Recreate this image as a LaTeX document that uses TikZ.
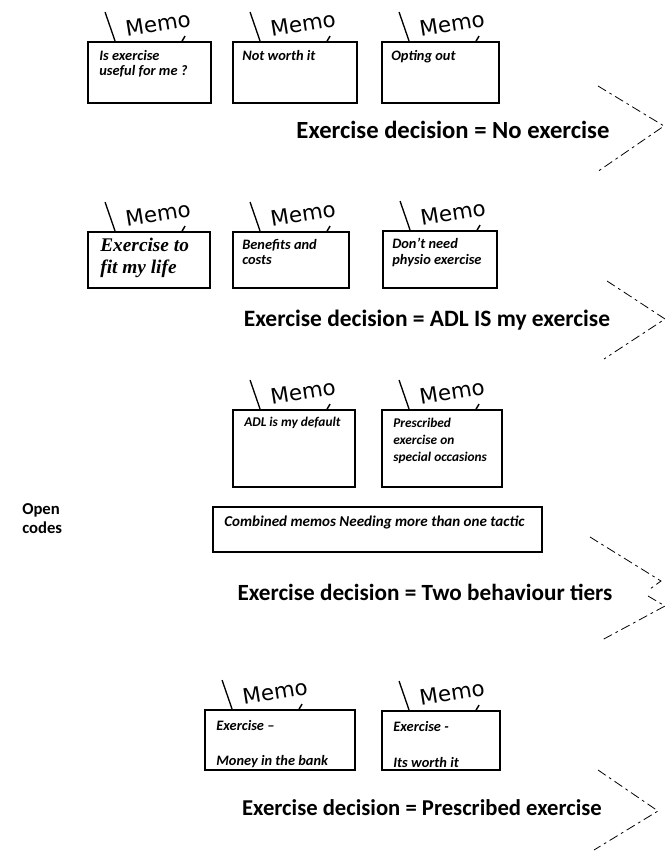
\documentclass[tikz,border=0pt]{standalone}
\usepackage{fontspec}
\setmainfont{Carlito}
\newfontfamily\memofont{DejaVu Sans}
\newfontfamily\bookfont{Liberation Serif}
\usetikzlibrary{calc,fit}

\tikzset{
  cardframe/.style={draw, line width=1.4pt, inner sep=0pt},
  tabline/.style={line width=1pt},
  tickmark/.style={line width=1.1pt},
  memolabel/.style={font=\memofont\fontsize{16}{16}\selectfont, rotate=9, inner sep=0pt},
  cardtext/.style={anchor=north west, align=left, inner sep=0pt,
    font=\bfseries\itshape\fontsize{10.8}{11.5}\selectfont},
  bigcardtext/.style={anchor=north west, align=left, inner sep=0pt,
    font=\bookfont\bfseries\itshape\fontsize{14.5}{16.5}\selectfont},
  smallcardtext/.style={anchor=north west, align=left, inner sep=0pt,
    font=\bfseries\itshape\fontsize{10}{12.5}\selectfont},
  decision/.style={font=\bfseries\fontsize{#1}{20}\selectfont, inner sep=0pt},
  decision/.default=18.5,
  sidenote/.style={font=\bfseries\fontsize{12.5}{14.5}\selectfont, align=left, anchor=north west, inner sep=0pt},
  chevron/.style={line width=0.6pt, dash pattern=on 7pt off 3pt on 2pt off 3pt}
}

% memo card: name, left, top, right, bottom (pixel units)
\newcommand\memocard[5]{%
  \node[cardframe, fit={(#2,#3) (#4,#5)}] (#1) {};
  \draw[tabline] ($(#1.north west)+(28,0)$) -- ($(#1.north west)+(18,-29)$);
  \node[memolabel] (#1-label) at ($(#1.north west)+(71,-17)$) {Memo};
  \draw[tickmark] ($(#1.north west)+(95,0)$) -- ($(#1.north west)+(98,-5)$);
}

\begin{document}
\begin{tikzpicture}[x=0.75pt,y=-0.75pt]
\useasboundingbox (0,0) rectangle (667,857);

% ---- tier 1
\memocard{c11}{88}{42}{211}{103}
\memocard{c12}{233}{42}{357}{103}
\memocard{c13}{382}{42}{499}{103}
\node[cardtext] (c11-t) at ($(c11.north west)+(12,9)$) {Is exercise\\useful for me ?};
\node[cardtext] (c12-t) at ($(c12.north west)+(10,9)$) {Not worth it};
\node[cardtext] (c13-t) at ($(c13.north west)+(10,9)$) {Opting out};
\node[decision] (d1) at (453,130) {Exercise decision = No exercise};
\coordinate (a1) at (598,86);
\coordinate (a2) at (664,126);
\coordinate (a3) at (597,172);
\draw[chevron] (a1) -- (a2) -- (a3);

% ---- tier 2
\memocard{c21}{88}{232}{210}{288}
\memocard{c22}{233}{232}{349}{288}
\memocard{c23}{383}{231}{497}{288}
\node[bigcardtext] (c21-t) at ($(c21.north west)+(13,7)$) {Exercise to\\fit my life};
\node[cardtext] (c22-t) at ($(c22.north west)+(10,8)$) {Benefits and\\costs};
\node[cardtext] (c23-t) at ($(c23.north west)+(10,8)$) {Don’t need\\physio exercise};
\node[decision=17.6] (d2) at (427,320) {Exercise decision = ADL IS my exercise};
\coordinate (b1) at (607,281);
\coordinate (b2) at (665,319);
\coordinate (b3) at (604,359);
\draw[chevron] (b1) -- (b2) -- (b3);

% ---- tier 3
\memocard{c31}{233}{410}{355}{487}
\memocard{c32}{382}{410}{502}{487}
\node[smallcardtext] (c31-t) at ($(c31.north west)+(12,8)$) {ADL is my default};
\node[smallcardtext] (c32-t) at ($(c32.north west)+(12,9)$) {Prescribed\\exercise on\\special occasions};
\node[cardframe, fit={(213,507) (542,552)}] (comb) {};
\node[cardtext, font=\bfseries\itshape\fontsize{11.3}{12}\selectfont] (comb-t) at ($(comb.north west)+(12,10)$) {Combined memos Needing more than one tactic};
\node[sidenote] (open) at (22,503) {Open\\codes};
\node[decision=17.4] (d3) at (425,592) {Exercise decision = Two behaviour tiers};
\coordinate (e1) at (590,537);
\coordinate (e2) at (661,581);
\coordinate (e3) at (650,589);
\coordinate (e4) at (648,596);
\coordinate (e5) at (665,606);
\coordinate (e6) at (602,640);
\draw[chevron] (e1) -- (e2) -- (e3);
\draw[chevron] (e4) -- (e5) -- (e6);

% ---- tier 4
\memocard{c41}{205}{710}{355}{770}
\memocard{c42}{382}{711}{500}{770}
\node[cardtext] (c41-t) at ($(c41.north west)+(12,11)$) {Exercise –};
\node[cardtext, anchor=south west] (c41-b) at ($(c41.south west)+(12,-3)$) {Money in the bank};
\node[cardtext] (c42-t) at ($(c42.north west)+(12,11)$) {Exercise -};
\node[cardtext, anchor=south west] (c42-b) at ($(c42.south west)+(12,-3)$) {Its worth it};
\node[decision=17] (d4) at (422,808) {Exercise decision = Prescribed exercise};
\coordinate (f1) at (598,770);
\coordinate (f2) at (658,811);
\coordinate (f3) at (594,850);
\draw[chevron] (f1) -- (f2) -- (f3);
\end{tikzpicture}
\end{document}
